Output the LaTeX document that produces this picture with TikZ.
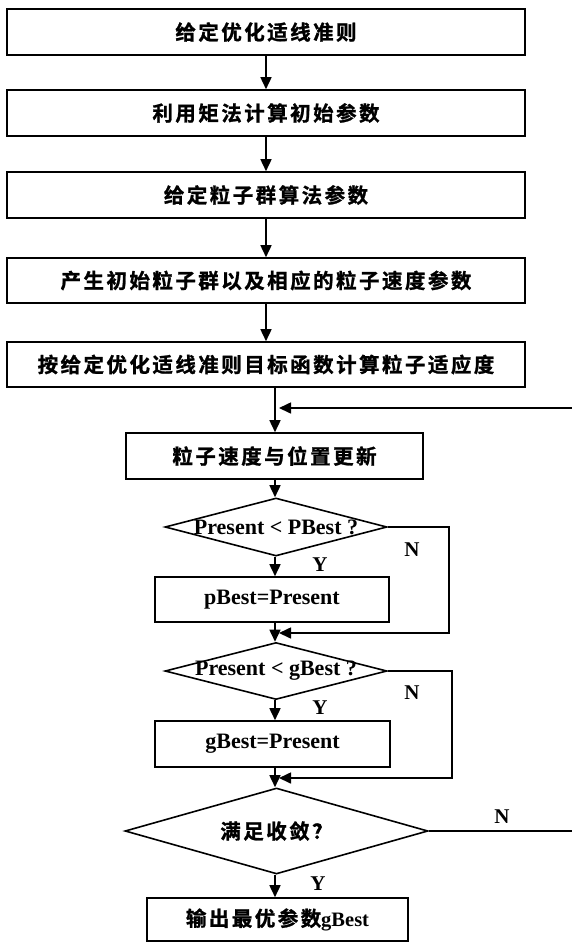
\documentclass[tikz,border=0pt]{standalone}
\usepackage{fontspec}
\setmainfont{Liberation Serif}
\newfontfamily\cjk[LetterSpace=12,BoldFont={* Bold},BoldFeatures={FakeBold=1.2}]{Noto Sans CJK SC}
\usetikzlibrary{arrows.meta,shapes.geometric}
\tikzset{
  box/.style={draw,line width=1.6pt,rectangle,inner sep=0pt,font=\cjk\bfseries\fontsize{20.5}{22}\selectfont},
  dia/.style={draw,line width=1.6pt,diamond,inner sep=0pt},
  lat/.style={font=\bfseries\fontsize{22}{23}\selectfont,inner sep=0pt},
  lab/.style={font=\bfseries\fontsize{21}{22}\selectfont,inner sep=0pt},
  conn/.style={line width=1.6pt,-{Triangle[width=11pt,length=12pt]}}
}
\begin{document}
\begin{tikzpicture}[x=1pt,y=-1pt]
\useasboundingbox (0,0) rectangle (572,943);
% upper boxes
\node[box,minimum width=518pt,minimum height=46pt] (b1) at (266,32) {给定优化适线准则};
\node[box,minimum width=518pt,minimum height=46pt] (b2) at (266,113) {利用矩法计算初始参数};
\node[box,minimum width=518pt,minimum height=46pt] (b3) at (266,195) {给定粒子群算法参数};
\node[box,minimum width=518pt,minimum height=45pt] (b4) at (266,280.5) {产生初始粒子群以及相应的粒子速度参数};
\node[box,minimum width=518pt,minimum height=45pt] (b5) at (266,364.5) {按给定优化适线准则目标函数计算粒子适应度};
% lower part
\node[box,minimum width=297pt,minimum height=46pt] (b6) at (274.5,456) {粒子速度与位置更新};
\node[dia,minimum width=222pt,minimum height=58pt] (d1) at (276,527) {};
\node[lat] (t1) at (d1.center) {Present < PBest ?};
\node[box,font=\bfseries\fontsize{22}{23}\selectfont,minimum width=234pt,minimum height=45pt] (b7) at (272,599.5) {pBest=Present};
\node[dia,minimum width=222pt,minimum height=57pt] (d2) at (276,671) {};
\node[lat] (t2) at (d2.center) {Present < gBest ?};
\node[box,font=\bfseries\fontsize{22}{23}\selectfont,minimum width=235pt,minimum height=46pt] (b8) at (272.5,744) {gBest=Present};
\node[dia,minimum width=303pt,minimum height=86pt] (d3) at (276.5,831) {};
\node[font=\cjk\bfseries\fontsize{20.5}{22}\selectfont,inner sep=0pt] (t3) at (d3.center) {满足收敛？};
\node[box,minimum width=261pt,minimum height=43pt] (b9) at (277.5,919.5) {输出最优参数{\fontspec{Liberation Serif}\bfseries gBest}};
% coordinates
\coordinate (j0) at (275,408);
\coordinate (j1) at (275,633);
\coordinate (j2) at (275,778);
% trunk arrows
\draw[conn] (b1.south) -- (b2.north);
\draw[conn] (b2.south) -- (b3.north);
\draw[conn] (b3.south) -- (b4.north);
\draw[conn] (b4.south) -- (b5.north);
\draw[conn] (b5.south -| j0) -- (b6.north -| j0);
\draw[conn] (b6.south -| j0) -- (d1.north -| j0);
\draw[conn] (d1.south -| j0) -- (b7.north -| j0);
\draw[conn] (b7.south -| j0) -- (d2.north -| j0);
\draw[conn] (d2.south -| j0) -- (b8.north -| j0);
\draw[conn] (b8.south -| j0) -- (d3.north -| j0);
\draw[conn] (d3.south -| j0) -- (b9.north -| j0);
% N loops
\draw[conn,shorten >=4pt] (d1.east) -- (449,527) -- (449,633) -- (j1);
\draw[conn,shorten >=4pt] (d2.east) -- (452,671) -- (452,778) -- (j2);
\draw[conn,shorten >=4pt] (d3.east) -- (600,831) -- (600,408) -- (j0);
% labels
\node[lab] (y1) at (320,565) {Y};
\node[lab] (y2) at (320,708) {Y};
\node[lab] (y3) at (318,884) {Y};
\node[lab] (n1) at (412,550) {N};
\node[lab] (n2) at (412,693) {N};
\node[lab] (n3) at (502,817) {N};
\end{tikzpicture}
\end{document}
